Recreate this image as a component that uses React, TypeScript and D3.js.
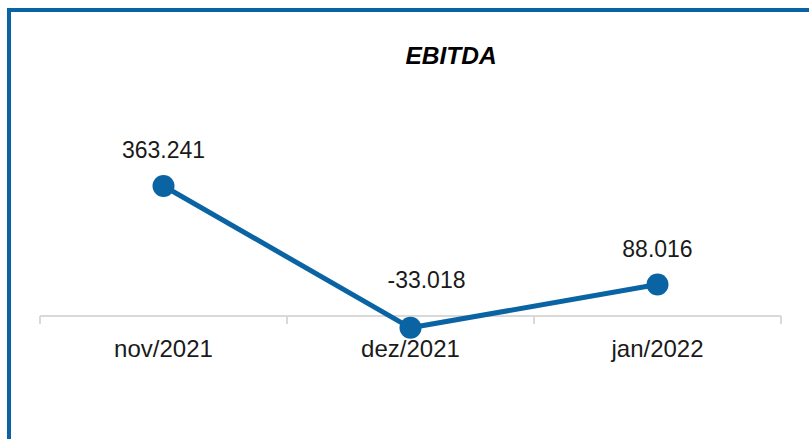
import React, { useEffect, useRef } from 'react';
import * as d3 from 'd3';

const categories = ['nov/2021', 'dez/2021', 'jan/2022'];
const ebitda = [363.241, -33.018, 88.016];
const valueLabels = ['363.241', '-33.018', '88.016'];
const chartTitle = 'EBITDA';

const W = 809;
const H = 439;
const blue = '#0a64a4';

const App: React.FC = () => {
  const svgRef = useRef<SVGSVGElement>(null);

  useEffect(() => {
    if (!svgRef.current) return;
    const svg = d3.select(svgRef.current);
    svg.selectAll('*').remove();

    // frame (only top and left edges are in view)
    svg.append('rect')
      .attr('x', 9).attr('y', 10)
      .attr('width', W + 10).attr('height', H + 10)
      .attr('fill', '#fff')
      .attr('stroke', blue)
      .attr('stroke-width', 4);

    svg.append('text')
      .attr('x', 451).attr('y', 64)
      .attr('text-anchor', 'middle')
      .attr('font-family', '"Liberation Sans", Arial, sans-serif')
      .attr('font-weight', 'bold')
      .attr('font-style', 'italic')
      .attr('font-size', 24.5)
      .attr('fill', '#000')
      .text(chartTitle);

    const x = d3.scaleBand<string>().domain(categories).range([40, 781]);
    const y = d3.scaleLinear().domain([0, 363.241]).range([316, 186]);

    // category axis
    svg.append('line')
      .attr('x1', x.range()[0]).attr('x2', x.range()[1])
      .attr('y1', y(0)).attr('y2', y(0))
      .attr('stroke', '#d9d9d9').attr('stroke-width', 2);

    const tickPos = [...categories.map(c => x(c)!), x.range()[1]];
    svg.selectAll('line.tick')
      .data(tickPos)
      .enter().append('line')
      .attr('class', 'tick')
      .attr('x1', d => d).attr('x2', d => d)
      .attr('y1', y(0)).attr('y2', y(0) + 8)
      .attr('stroke', '#d9d9d9').attr('stroke-width', 2);

    svg.selectAll('text.cat')
      .data(categories)
      .enter().append('text')
      .attr('class', 'cat')
      .attr('x', d => x(d)! + x.bandwidth() / 2)
      .attr('y', 357)
      .attr('text-anchor', 'middle')
      .attr('font-family', '"Liberation Sans", Arial, sans-serif')
      .attr('font-size', 24)
      .attr('fill', '#1a1a1a')
      .text(d => d);

    const pts = ebitda.map((v, i) => [x(categories[i])! + x.bandwidth() / 2, y(v)] as [number, number]);

    svg.append('path')
      .attr('d', d3.line()(pts))
      .attr('fill', 'none')
      .attr('stroke', blue)
      .attr('stroke-width', 5)
      .attr('stroke-linejoin', 'round');

    svg.selectAll('circle.pt')
      .data(pts)
      .enter().append('circle')
      .attr('class', 'pt')
      .attr('cx', d => d[0]).attr('cy', d => d[1])
      .attr('r', 11)
      .attr('fill', blue);

    // labels sit above the point, or above the axis for negative values
    svg.selectAll('text.val')
      .data(pts)
      .enter().append('text')
      .attr('class', 'val')
      .attr('x', (d, i) => d[0] + (ebitda[i] < 0 ? 16 : 0))
      .attr('y', d => Math.min(d[1], y(0)) - 28)
      .attr('text-anchor', 'middle')
      .attr('font-family', '"Liberation Sans", Arial, sans-serif')
      .attr('font-size', 23)
      .attr('fill', '#1a1a1a')
      .text((_, i) => valueLabels[i]);
  }, []);

  return (
    <svg
      ref={svgRef}
      width={W}
      height={H}
      style={{ position: 'absolute', left: 0, top: 0, display: 'block', background: '#fff' }}
    />
  );
};

export default App;
